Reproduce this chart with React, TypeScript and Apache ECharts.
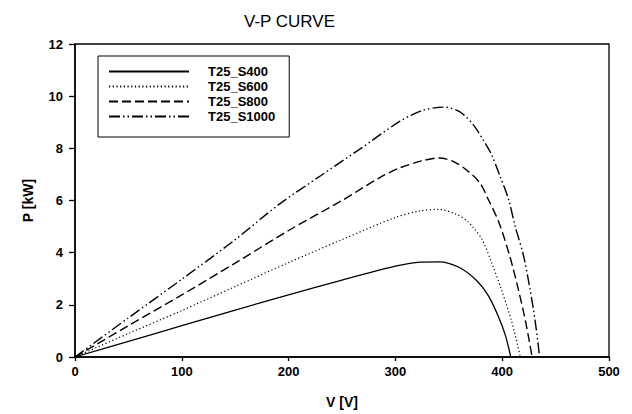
import React, { useEffect, useRef } from "react";
import * as echarts from "echarts";

const seriesNames = ["T25_S400", "T25_S600", "T25_S800", "T25_S1000"];

const v400 = [0, 50, 100, 150, 200, 250, 300, 323, 341, 360, 376, 387, 396, 403, 408];
const p400 = [0, 0.6, 1.2, 1.8, 2.38, 2.95, 3.48, 3.64, 3.65, 3.43, 2.93, 2.35, 1.59, 0.83, 0];

const v600 = [0, 50, 100, 150, 200, 250, 300, 323, 341, 357, 367, 373, 381, 390, 399, 409, 417];
const p600 = [0, 0.9, 1.78, 2.7, 3.62, 4.5, 5.35, 5.6, 5.66, 5.47, 5.22, 4.96, 4.52, 3.63, 2.61, 1.34, 0];

const v800 = [0, 50, 100, 150, 200, 250, 285, 304, 325, 341, 354, 366, 379, 387, 397, 407, 415, 422, 428];
const p800 = [0, 1.2, 2.38, 3.6, 4.85, 6.0, 6.87, 7.25, 7.52, 7.63, 7.5, 7.19, 6.68, 6.04, 5.15, 3.88, 2.61, 1.34, 0];

const v1000 = [0, 50, 100, 150, 191, 230, 266, 304, 325, 345, 360, 373, 384, 390, 398, 406, 412, 420, 426, 431, 435];
const p1000 = [0, 1.5, 2.98, 4.5, 5.85, 6.95, 7.95, 9.03, 9.45, 9.58, 9.41, 8.9, 8.2, 7.76, 6.93, 6.04, 5.03, 3.88, 2.61, 1.34, 0];

const xTicks = [0, 100, 200, 300, 400, 500];
const yTicks = [0, 2, 4, 6, 8, 10, 12];

const FONT = '"Liberation Sans", Arial, sans-serif';

const zip = (xs: number[], ys: number[]) => xs.map((x, i) => [x, ys[i]]);

export default function App() {
  const ref = useRef<HTMLDivElement>(null);
  useEffect(() => {
    if (!ref.current) return;
    const chart = echarts.init(ref.current, undefined, { renderer: "svg" });
    const styles: any[] = [
      { type: "solid", width: 1.3 },
      { type: [1.2, 2.5], width: 1.2 },
      { type: [9, 4], width: 1.4 },
      { type: [11, 3, 1.5, 3, 1.5, 3], width: 1.4 },
    ];
    const datas = [zip(v400, p400), zip(v600, p600), zip(v800, p800), zip(v1000, p1000)];
    chart.setOption({
      animation: false,
      backgroundColor: "#fff",
      title: {
        text: "V-P CURVE",
        left: 239,
        top: 8,
        textStyle: { fontFamily: FONT, fontSize: 17, fontWeight: "normal", color: "#000" },
      },
      grid: {
        left: 75,
        right: 23,
        top: 44,
        bottom: 54,
        show: true,
        borderColor: "#000",
        borderWidth: 1.3,
        backgroundColor: "transparent",
      },
      legend: {
        orient: "vertical",
        left: 98,
        top: 56,
        padding: [9, 14, 14, 10],
        itemWidth: 80,
        itemHeight: 14,
        itemGap: 2,
        borderColor: "#000",
        borderWidth: 1,
        data: seriesNames,
        itemStyle: { opacity: 0 },
        textStyle: {
          fontFamily: FONT,
          fontSize: 13,
          fontWeight: "bold",
          color: "#000",
          padding: [0, 0, 0, 14],
        },
      },
      xAxis: {
        type: "value",
        min: 0,
        max: 500,
        interval: 100,
        name: "V [V]",
        nameLocation: "middle",
        nameGap: 38,
        nameTextStyle: { fontFamily: FONT, fontSize: 14, fontWeight: "bold", color: "#000" },
        axisLine: { show: true, lineStyle: { color: "#000", width: 1.5 } },
        axisTick: { show: true, inside: false, length: 4, lineStyle: { color: "#000", width: 1.3 } },
        axisLabel: {
          fontFamily: FONT,
          fontSize: 13,
          fontWeight: "bold",
          color: "#000",
          margin: 8,
          customValues: xTicks,
        },
        splitLine: { show: false },
      },
      yAxis: {
        type: "value",
        min: 0,
        max: 12,
        interval: 2,
        name: "P [kW]",
        nameLocation: "middle",
        nameGap: 40,
        nameRotate: 90,
        nameTextStyle: { fontFamily: FONT, fontSize: 14, fontWeight: "bold", color: "#000" },
        axisLine: { show: true, lineStyle: { color: "#000", width: 1.5 } },
        axisTick: { show: true, inside: false, length: 6, lineStyle: { color: "#000", width: 1.3 } },
        axisLabel: {
          fontFamily: FONT,
          fontSize: 13,
          fontWeight: "bold",
          color: "#000",
          margin: 12,
          customValues: yTicks,
        },
        splitLine: { show: false },
      },
      series: seriesNames.map((name, i) => ({
        name,
        type: "line",
        data: datas[i],
        symbol: "none",
        smooth: 0.3,
        lineStyle: { color: "#000", ...styles[i] },
        itemStyle: { color: "#000" },
      })),
    });
    return () => chart.dispose();
  }, []);
  return <div ref={ref} style={{ width: 632, height: 414, position: "absolute", left: 0, top: 0 }} />;
}
